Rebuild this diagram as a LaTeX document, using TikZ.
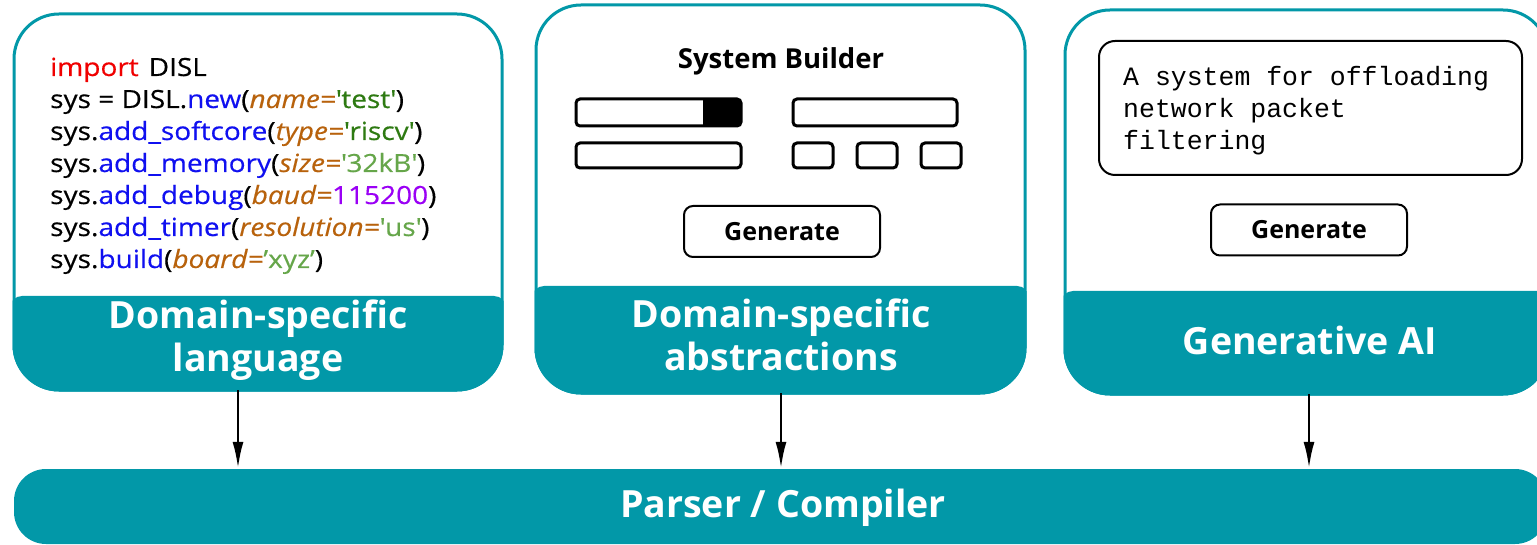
\documentclass[tikz,border=0pt]{standalone}
\usepackage{fontspec}
\setmainfont{Open Sans}
\setmonofont{Liberation Mono}
\newfontfamily\codefont{Open Sans}[FakeStretch=1.12,FakeBold=0.4]
\usetikzlibrary{arrows.meta}
\definecolor{tealc}{HTML}{0298A8}
\definecolor{kwred}{HTML}{F00000}
\definecolor{fnblue}{HTML}{1010F0}
\definecolor{argbr}{HTML}{B8620C}
\definecolor{strdk}{HTML}{2E7A12}
\definecolor{strlt}{HTML}{66A64A}
\definecolor{numpu}{HTML}{9A00F5}
\newcommand\kwd[1]{\textcolor{kwred}{#1}}
\newcommand\fnc[1]{\textcolor{fnblue}{#1}}
\newcommand\prmx[1]{\textcolor{argbr}{\itshape #1=}}
\newcommand\sdk[1]{\textcolor{strdk}{#1}}
\newcommand\slt[1]{\textcolor{strlt}{#1}}
\newcommand\npu[1]{\textcolor{numpu}{#1}}
\newcommand\sq{\textquotesingle}
\tikzset{
  card/.style={draw=tealc, line width=3pt, fill=white, rounded corners=45pt, inner sep=0pt, outer sep=0pt},
  bandlabel/.style={text=white, font=\fontsize{37.5}{43}\selectfont\bfseries, align=center, inner sep=0pt},
  codeline/.style={anchor=base west, inner sep=0pt, font=\codefont\fontsize{25}{32}\selectfont},
  monoline/.style={anchor=base west, inner sep=0pt, font=\fontsize{26.5}{32}\selectfont\ttfamily},
  widget/.style={draw=black, line width=3pt, rounded corners=4pt},
  genbtn/.style={draw=black, line width=2pt, rounded corners=9pt, minimum width=196pt, minimum height=51pt, inner sep=0pt, font=\fontsize{25}{30}\selectfont\bfseries},
  flow/.style={draw=black, line width=2.8pt, -{Latex[length=27pt,width=11pt]}},
  parserbar/.style={fill=tealc, rounded corners=32pt, text=white, inner sep=0pt}
}
\begin{document}
\begin{tikzpicture}[x=1pt,y=-1pt]
\useasboundingbox (0,0) rectangle (1537,545);
\clip (0,0) rectangle (1537,545);

% ---- cards ----
\node[card, minimum width=488pt, minimum height=376pt] (card1) at (258,202) {};
\node[card, minimum width=489pt, minimum height=388pt] (card2) at (780.5,199) {};
\node[card, minimum width=483pt, minimum height=384pt] (card3) at (1306.5,202) {};

% bands
\begin{scope}
\clip[rounded corners=46.5pt] ([shift={(-1.5,-1.5)}]card1.north west) rectangle ([shift={(1.5,1.5)}]card1.south east);
\fill[tealc, rounded corners=12pt] (10,296) rectangle (506,460);
\end{scope}
\begin{scope}
\clip[rounded corners=46.5pt] ([shift={(-1.5,-1.5)}]card2.north west) rectangle ([shift={(1.5,1.5)}]card2.south east);
\fill[tealc, rounded corners=12pt] (532,286) rectangle (1029,460);
\end{scope}
\begin{scope}
\clip[rounded corners=46.5pt] ([shift={(-1.5,-1.5)}]card3.north west) rectangle ([shift={(1.5,1.5)}]card3.south east);
\fill[tealc, rounded corners=12pt] (1061,291) rectangle (1552,460);
\end{scope}

\node[bandlabel] (band1) at (258,340) {Domain-specific\\language};
\node[bandlabel] (band2) at (781,335) {Domain-specific\\abstractions};
\node[bandlabel] (band3) at (1310,340) {Generative AI};

% ---- card 1: code ----
\node[codeline] (c1) at (50,76) {\kwd{import}\hspace{10pt}DISL};
\node[codeline] (c2) at (50,108) {sys = DISL.\fnc{new}(\prmx{name}\sdk{\sq test\sq})};
\node[codeline] (c3) at (50,140) {sys.\fnc{add\_softcore}(\prmx{type}\sdk{\sq riscv\sq})};
\node[codeline] (c4) at (50,172) {sys.\fnc{add\_memory}(\prmx{size}\slt{\sq 32kB\sq})};
\node[codeline] (c5) at (50,204) {sys.\fnc{add\_debug}(\prmx{baud}\npu{115200})};
\node[codeline] (c6) at (50,236) {sys.\fnc{add\_timer}(\prmx{resolution}\slt{\sq us\sq})};
\node[codeline] (c7) at (50,268) {sys.\fnc{build}(\prmx{board}\slt{’xyz’})};

% ---- card 2: system builder ----
\node[font=\fontsize{27.5}{34}\selectfont\bfseries, anchor=base, inner sep=0pt] (sbtitle) at (781,69) {System Builder};
\draw[widget] (576,99) rectangle (741,126);
\fill[black, rounded corners=4pt] (703,99) rectangle (741,126);
\fill[black] (703,99) rectangle (712,126);
\draw[widget] (793,99) rectangle (957,126);
\draw[widget] (576,143) rectangle (741,168);
\draw[widget] (793,143) rectangle (833,168);
\draw[widget] (857,143) rectangle (897,168);
\draw[widget] (921,143) rectangle (961,168);
\node[genbtn] (gen1) at (782,231.5) {Generate};

% ---- card 3: generative AI ----
\node[draw=black, line width=2pt, rounded corners=16pt, minimum width=423pt, minimum height=134pt, inner sep=0pt] (prompt) at (1310.5,108) {};
\node[monoline] (p1) at (1123,86) {A system for offloading};
\node[monoline] (p2) at (1123,118) {network packet};
\node[monoline] (p3) at (1123,150) {filtering};
\node[genbtn] (gen2) at (1309,230) {Generate};

% ---- parser ----
\node[parserbar, minimum width=1533pt, minimum height=75pt] (parser) at (780.5,506.5) {};
\node[text=white, font=\fontsize{37.5}{43}\selectfont\bfseries, inner sep=0pt] (parsertext) at (783,508) {Parser / Compiler};

% ---- arrows ----
\coordinate (ax1) at (238,0);
\coordinate (ax2) at (781,0);
\coordinate (ax3) at (1309,0);
\draw[flow] (card1.south -| ax1) -- (parser.north -| ax1);
\draw[flow] (card2.south -| ax2) -- (parser.north -| ax2);
\draw[flow] (card3.south -| ax3) -- (parser.north -| ax3);
\end{tikzpicture}
\end{document}
